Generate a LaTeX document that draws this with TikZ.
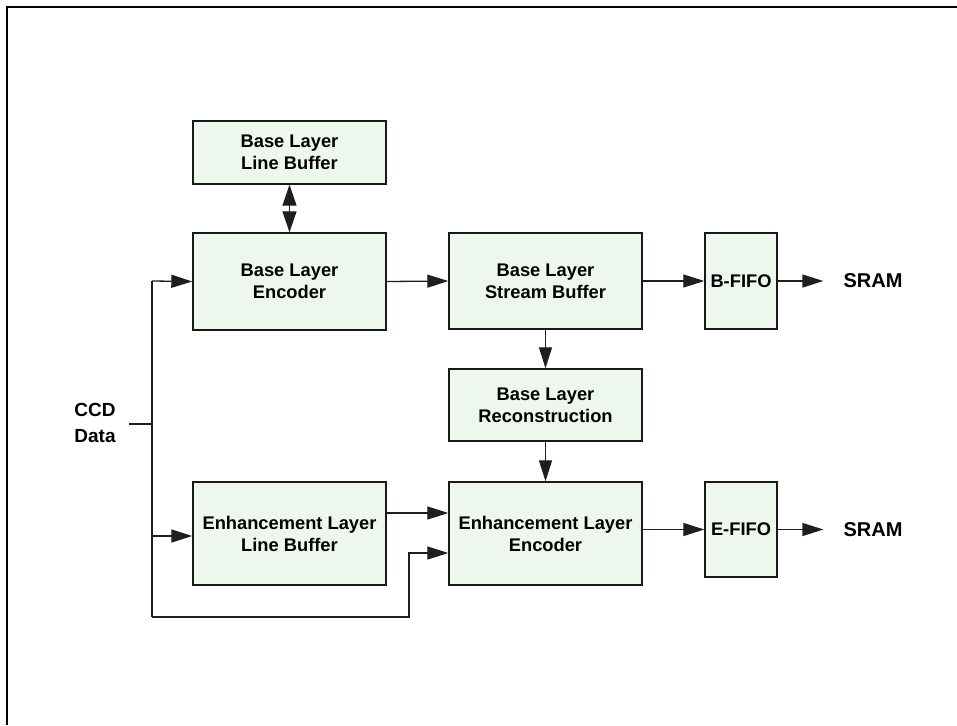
\documentclass[tikz,border=0pt]{standalone}
\usepackage{fontspec}
\setmainfont{Liberation Sans}
\usetikzlibrary{arrows.meta}
\definecolor{boxfill}{RGB}{238,247,238}
\definecolor{wire}{RGB}{30,30,30}
\begin{document}
\begin{tikzpicture}[x=1pt,y=-1pt,
  block/.style={draw=black!90, line width=1.4pt, fill=boxfill, inner sep=0pt,
    align=center, font=\bfseries\fontsize{18.3}{22}\selectfont},
  label/.style={inner sep=0pt, align=center, font=\bfseries\fontsize{20}{26}\selectfont},
  link/.style={draw=wire, line width=1.3pt, -{Triangle[length=21pt,width=13pt]}},
  wireline/.style={draw=wire, line width=1.3pt},
  bothway/.style={draw=wire, line width=1.3pt,
    {Triangle[length=21pt,width=14pt]}-{Triangle[length=21pt,width=14pt]}}]

\useasboundingbox (0,0) rectangle (957,725);
% page frame: top and left rules
\draw[line width=2pt] (7,725) -- (7,7) -- (957,7);

% blocks
\node[block, minimum width=193pt, minimum height=63pt]  (bllb)  at (289.5,152.5) {Base Layer\\Line Buffer};
\node[block, minimum width=193pt, minimum height=97pt]  (ble)   at (289.5,281.5) {Base Layer\\Encoder};
\node[block, minimum width=193pt, minimum height=96pt]  (blsb)  at (545.5,281)   {Base Layer\\Stream Buffer};
\node[block, minimum width=72pt,  minimum height=96pt]  (bfifo) at (741,281)     {B-FIFO};
\node[block, minimum width=193pt, minimum height=72pt]  (blr)   at (545.5,405)   {Base Layer\\Reconstruction};
\node[block, minimum width=193pt, minimum height=103pt] (ele)   at (545.5,533.5) {Enhancement Layer\\Encoder};
\node[block, minimum width=72pt,  minimum height=95pt]  (efifo) at (741,529.5)   {E-FIFO};
\node[block, minimum width=193pt, minimum height=103pt] (ellb)  at (289.5,533.5) {Enhancement Layer\\Line Buffer};

% outer labels
\node[label, font=\bfseries\fontsize{19}{26}\selectfont] (ccd) at (95,423) {CCD\\Data};
\node[label] (sram1) at (873,281)   {SRAM};
\node[label] (sram2) at (873,529.5) {SRAM};

% input bus
\coordinate (ccdend) at (129,424);
\coordinate (bustop) at (152,281);
\coordinate (bustap) at (152,424);
\coordinate (busmid) at (152,536);
\coordinate (busbot) at (152,617);
\coordinate (loopx)  at (409,617);
\coordinate (loopin) at (409,553);

\draw[wireline] (ccdend) -- (bustap);
\draw[wireline] (bustop) -- (busbot);
\draw[link] (bustop) -- (ble.west);
\draw[link] (busmid) -- (busmid -| ellb.west);
\draw[link] (busbot) -- (loopx) -- (loopin) -- (loopin -| ele.west);

% data path
\draw[bothway] (bllb.south) -- (ble.north);
\draw[link] (ble.east) -- (blsb.west);
\draw[link] (blsb.east) -- (bfifo.west);
\draw[link] (bfifo.east) -- ([xshift=-20pt]sram1.west);
\draw[link] (blsb.south) -- (blr.north);
\draw[link] (blr.south) -- (ele.north);
\draw[link] (ellb.east |- 0,513) -- (ele.west |- 0,513);
\draw[link] (ele.east |- efifo.west) -- (efifo.west);
\draw[link] (efifo.east) -- ([xshift=-20pt]sram2.west);
\end{tikzpicture}
\end{document}
